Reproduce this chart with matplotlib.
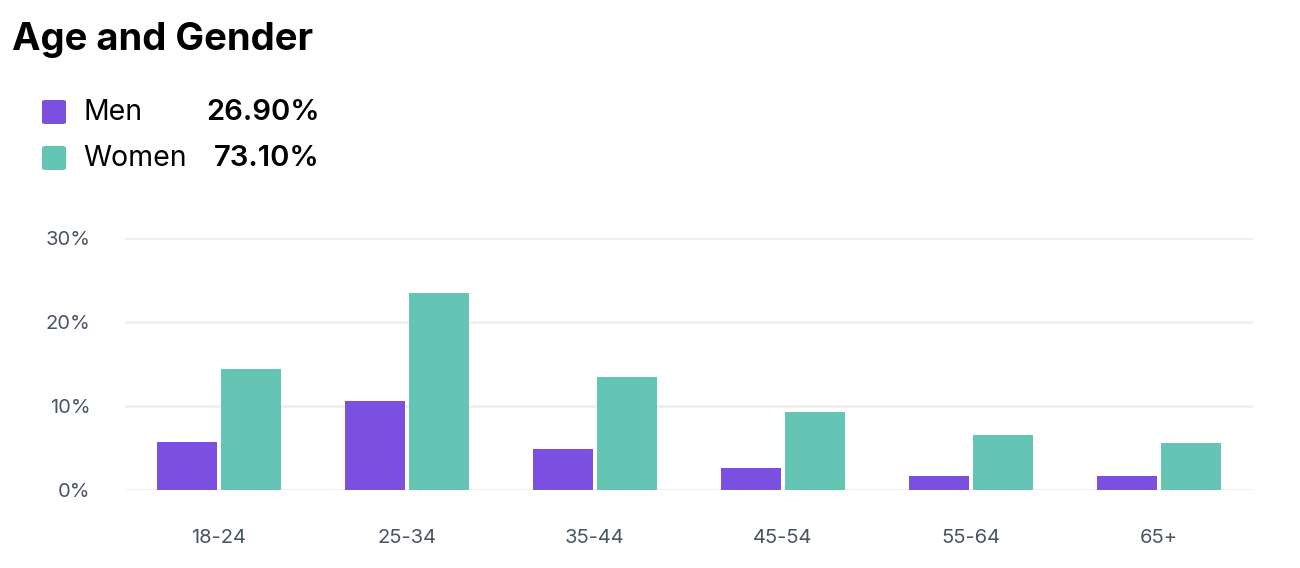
import matplotlib.pyplot as plt
import numpy as np
from matplotlib.patches import FancyBboxPatch

plt.rcParams['font.family'] = ['Inter', 'DejaVu Sans']

# Age groups and share of audience (%) per gender
age_groups = ['18-24', '25-34', '35-44', '45-54', '55-64', '65+']
men = [5.7, 10.6, 4.9, 2.6, 1.7, 1.7]
women = [14.4, 23.45, 13.45, 9.3, 6.5, 5.6]
series_names = ['Men', 'Women']
series_totals = [26.90, 73.10]
y_ticks = [0, 10, 20, 30]

purple = '#7B4FDF'
teal = '#65C5B4'
tick_color = '#4A5462'

fig = plt.figure(figsize=(13, 5.68), dpi=100)
ax = fig.add_axes([125 / 1300, 78 / 568, 1128 / 1300, 252 / 568])

x = np.arange(len(age_groups))
w = 0.319
off = 0.172
ax.bar(x - off, men, width=w, color=purple, zorder=3)
ax.bar(x + off, women, width=w, color=teal, zorder=3)

ax.set_xlim(-0.5, len(age_groups) - 0.5)
ax.set_ylim(0, 30)
ax.set_yticks(y_ticks)
ax.set_yticklabels([f'{t}%' for t in y_ticks])
ax.set_xticks(x)
ax.set_xticklabels(age_groups)
ax.tick_params(axis='both', length=0, labelsize=14.5, colors=tick_color)
ax.tick_params(axis='y', pad=25)
ax.tick_params(axis='x', pad=28)
ax.yaxis.grid(True, color='#EDEDED', linewidth=1.8, zorder=0)
ax.set_axisbelow(True)
for s in ax.spines.values():
    s.set_visible(False)

# title
fig.text(12 / 1300, 1 - 40 / 568, 'Age and Gender', fontsize=27.5, fontweight='bold',
         va='center', ha='left', color='black')

# legend with totals
colors = [purple, teal]
row_y = [112, 158]
for name, total, c, yy in zip(series_names, series_totals, colors, row_y):
    yf = 1 - yy / 568
    sq = FancyBboxPatch((42 / 1300, yf - 12 / 568), 24 / 1300, 24 / 568,
                        boxstyle='round,pad=0,rounding_size=0.003',
                        transform=fig.transFigure, facecolor=c, edgecolor='none')
    fig.patches.append(sq)
    fig.text(83 / 1300, yf, name, fontsize=20.5, va='center', ha='left', color='black')
    fig.text(320 / 1300, yf, f'{total:.2f}%', fontsize=21, fontweight='semibold',
             va='center', ha='right', color='black')

plt.savefig('out.png', dpi=100)
plt.close()
